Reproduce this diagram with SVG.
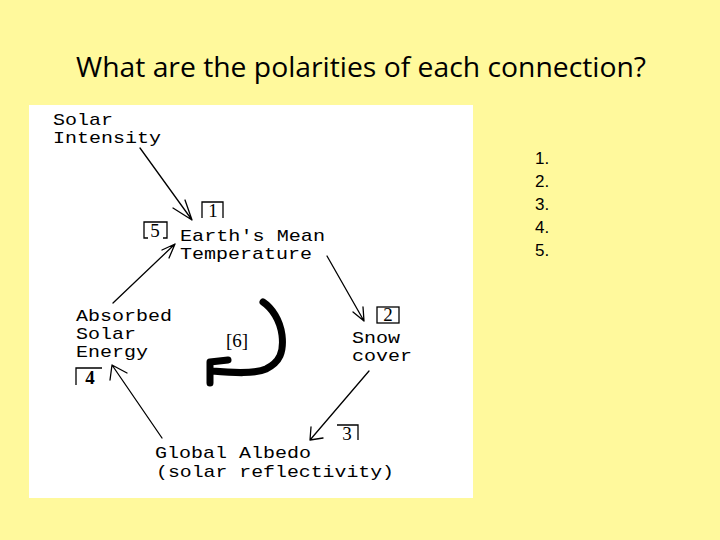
<svg xmlns="http://www.w3.org/2000/svg" width="720" height="540" viewBox="0 0 720 540">
<style>
.mono{font-family:"Liberation Mono","DejaVu Sans Mono",monospace;font-size:17px;fill:#000}
.num{font-family:"Liberation Serif","DejaVu Serif",serif;font-size:19px;fill:#000}
.ln{fill:none;stroke:#000;stroke-width:1.3;stroke-linecap:round;stroke-linejoin:round}
.box{fill:none;stroke:#000;stroke-width:1.3}
.list{font-family:"Liberation Sans",Arial,sans-serif;font-size:17px;fill:#000}
</style>
<rect width="720" height="540" fill="#FFF99C"/>
<text x="76" y="77" font-family="'Open Sans','Noto Sans',sans-serif" font-size="27" textLength="570" lengthAdjust="spacingAndGlyphs" fill="#000">What are the polarities of each connection?</text>
<rect x="29" y="105" width="444" height="393" fill="#fff"/>
<g id="solar-intensity"><text class="mono" x="53" y="125" textLength="60" lengthAdjust="spacingAndGlyphs">Solar</text><text class="mono" x="53" y="143" textLength="108" lengthAdjust="spacingAndGlyphs">Intensity</text></g>
<g id="earth-temp"><text class="mono" x="180" y="241" textLength="145" lengthAdjust="spacingAndGlyphs">Earth's Mean</text><text class="mono" x="180" y="259" textLength="132" lengthAdjust="spacingAndGlyphs">Temperature</text></g>
<g id="snow"><text class="mono" x="352" y="343" textLength="48" lengthAdjust="spacingAndGlyphs">Snow</text><text class="mono" x="352" y="361" textLength="60" lengthAdjust="spacingAndGlyphs">cover</text></g>
<g id="albedo"><text class="mono" x="155" y="458" textLength="156" lengthAdjust="spacingAndGlyphs">Global Albedo</text><text class="mono" x="156" y="477" textLength="238" lengthAdjust="spacingAndGlyphs">(solar reflectivity)</text></g>
<g id="absorbed"><text class="mono" x="76" y="321" textLength="96" lengthAdjust="spacingAndGlyphs">Absorbed</text><text class="mono" x="76" y="339" textLength="60" lengthAdjust="spacingAndGlyphs">Solar</text><text class="mono" x="76" y="357" textLength="72" lengthAdjust="spacingAndGlyphs">Energy</text></g>
<g id="labels">
<path class="box" d="M202,218V202H223V218"/><text class="num" x="213" y="217" text-anchor="middle">1</text>
<path class="box" d="M148,238H144V222H167V238H163"/><text class="num" x="155" y="237" text-anchor="middle">5</text>
<rect class="box" x="377" y="307" width="22" height="16"/><text class="num" x="388" y="321" text-anchor="middle">2</text>
<path class="box" d="M337,425H358V440"/><text class="num" x="347" y="440" text-anchor="middle">3</text>
<path class="box" d="M76,385V368H102"/><text class="num" x="90" y="384" text-anchor="middle" font-weight="bold">4</text>
<text class="num" x="237" y="347" text-anchor="middle" font-size="21">[6]</text>
</g>
<g id="connectors">
<path class="ln" d="M140,148L192,220M173,208L192,220L185,200"/>
<path class="ln" d="M327,256L364,321M353,312L364,321L363,307"/>
<path class="ln" d="M369,371L310,440M311,427L310,440L323,438"/>
<path class="ln" d="M162,438L112,365M127,373L112,365L110,380"/>
<path class="ln" d="M113,303L175,244M162,250L175,244L169,258"/>
<path d="M263,302C272,308 280,320 282,335C284,352 280,362 266,369C255,374 235,373 212,371M210,383V362L228,360" fill="none" stroke="#000" stroke-width="7" stroke-linecap="round" stroke-linejoin="round"/>
</g>
<g id="list">
<text class="list" x="535" y="164">1.</text>
<text class="list" x="535" y="187">2.</text>
<text class="list" x="535" y="210">3.</text>
<text class="list" x="535" y="233">4.</text>
<text class="list" x="535" y="256">5.</text>
</g>
</svg>
